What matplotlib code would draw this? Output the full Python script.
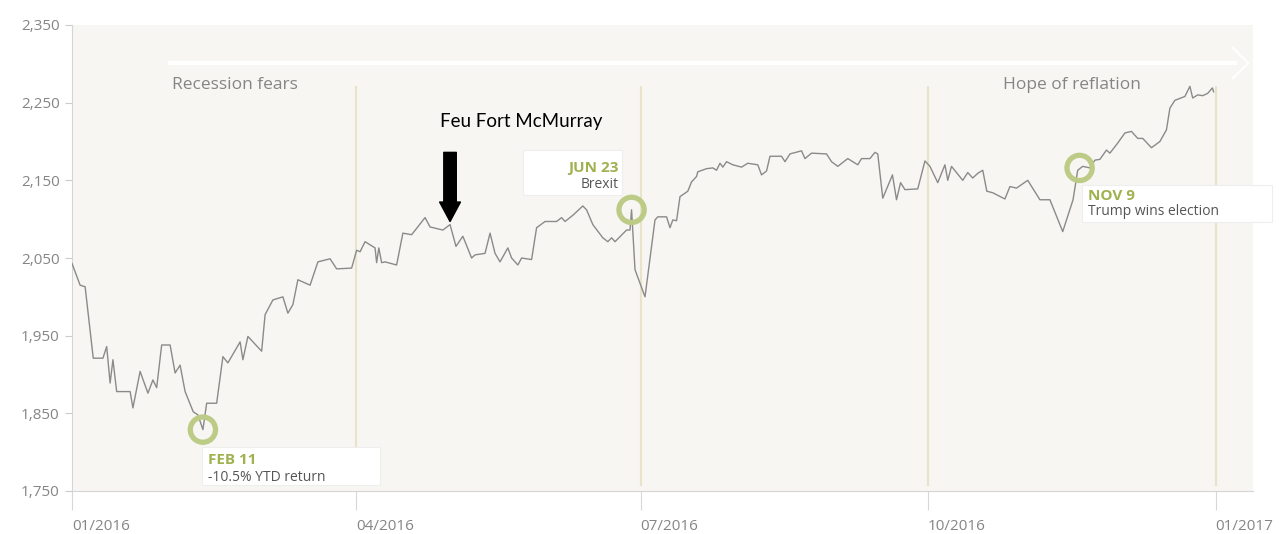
import pandas as pd
import matplotlib
matplotlib.use('Agg')
import matplotlib.pyplot as plt
import matplotlib.dates as mdates
from matplotlib.patches import Rectangle

# S&P 500, 2016 -- days counted from 01/01/2016
days = [0, 2.6, 4.2, 6.8, 9.9, 11.1, 12.2, 13.1, 14.3, 18.6, 19.5, 21.8, 24.3, 25.9, 27.1,
        28.7, 31.4, 33.0, 34.6, 36.2, 38.8, 40.3, 41.9, 43.1, 46.3, 48.3, 49.9, 53.8, 54.7,
        56.3, 60.7, 61.8, 64.3, 67.5, 69.1, 70.7, 72.3, 76.2, 78.7, 82.6, 84.7, 89.5, 91.1,
        92.2, 93.8, 97.0, 97.5, 98.2, 99.1, 100.2, 103.9, 105.9, 108.7, 113.0, 114.6, 118.7,
        121.0, 122.9, 125.1, 127.9, 129.0, 132.2, 133.8, 135.4, 137.0, 139.5, 140.7, 142.7,
        143.9, 147.1, 148.7, 151.4, 155.1, 156.7, 157.8, 160.3, 163.5, 164.7, 166.7, 169.9,
        171.5, 172.7, 173.8, 177.5, 178.6, 179.1, 180.2, 183.4, 186.6, 187.5, 190.3, 191.4,
        192.3, 193.5, 194.6, 197.1, 198.3, 199.9, 200.3, 203.1, 205.1, 206.3, 207.4, 208.3,
        209.5, 211.5, 214.3, 216.3, 219.5, 220.7, 222.3, 223.4, 227.1, 228.2, 229.8, 233.5,
        234.6, 236.7, 241.5, 243.1, 245.1, 248.3, 251.5, 252.7, 255.4, 257.0, 257.9, 259.5,
        262.6, 263.9, 265.2, 266.6, 270.7, 273.0, 274.6, 277.1, 279.4, 280.3, 281.5, 285.1,
        286.7, 288.3, 289.9, 291.5, 292.8, 294.7, 298.6, 300.2, 302.3, 305.9, 309.8, 313.0,
        317.1, 320.4, 321.9, 323.5, 325.8, 327.4, 329.0, 331.1, 332.2, 334.7, 337.0, 339.1,
        341.1, 342.7, 345.5, 348.2, 350.3, 351.4, 353.0, 356.2, 357.8, 358.7, 360.3, 361.9,
        363.5, 365.0, 365.4]
values = [2043, 2015, 2013, 1921, 1921, 1936, 1889, 1919, 1878, 1878, 1857, 1904, 1876, 1893, 1883,
          1938, 1938, 1902, 1912, 1878, 1852, 1848, 1829, 1863, 1863, 1923, 1915, 1942, 1919,
          1949, 1930, 1977, 1996, 2000, 1979, 1990, 2022, 2015, 2045, 2049, 2036, 2037, 2060,
          2058, 2071, 2063, 2044, 2063, 2044, 2045, 2041, 2082, 2080, 2102, 2090, 2086,
          2093, 2065, 2078, 2050, 2054, 2056, 2082, 2056, 2045, 2063, 2050, 2041,
          2050, 2048, 2089, 2097, 2097, 2102, 2097, 2105, 2117, 2112, 2093, 2076,
          2071, 2076, 2071, 2086, 2086, 2112, 2035, 2000, 2099, 2103, 2103, 2089,
          2099, 2098, 2129, 2136, 2148, 2155, 2161, 2165, 2166, 2163, 2172, 2167,
          2174, 2170, 2167, 2172, 2170, 2157, 2162, 2181, 2181, 2174, 2184, 2188,
          2178, 2185, 2184, 2174, 2168, 2178, 2170, 2178, 2178, 2186, 2184, 2127,
          2157, 2125, 2147, 2138, 2139, 2175, 2168, 2147, 2170, 2150, 2168, 2150,
          2160, 2153, 2159, 2163, 2136, 2134, 2126, 2142, 2140, 2150, 2125, 2125,
          2084, 2125, 2163, 2168, 2166, 2176, 2177, 2189, 2185, 2198, 2211, 2213,
          2204, 2204, 2192, 2200, 2215, 2243, 2253, 2258, 2271, 2256, 2260, 2259,
          2262, 2269, 2264]

event_days = [41.9, 179.1, 322.5]
event_values = [1829, 2112, 2166]
event_titles = ['FEB 11', 'JUN 23', 'NOV 9']
event_notes = ['-10.5% YTD return', 'Brexit', 'Trump wins election']

quarter_days = [91, 182, 274, 366]
yticks = [1750, 1850, 1950, 2050, 2150, 2250, 2350]

start = pd.Timestamp('2016-01-01')
dates = start + pd.to_timedelta(days, unit='D')
ev_dates = start + pd.to_timedelta(event_days, unit='D')
q_dates = start + pd.to_timedelta(quarter_days, unit='D')

font = 'Open Sans'
grey_txt = '#858585'
green = '#9fb24f'
ring = '#bccb86'

fig = plt.figure(figsize=(12.79, 5.34), dpi=100)
ax = fig.add_axes([72 / 1279, 1 - 491 / 534, 1181 / 1279, 466 / 534])
ax.set_facecolor('#f8f6f2')

ax.vlines(q_dates, 1757, 2272, color='#e8e4cc', lw=1.6, zorder=1)
ax.plot(dates, values, color='#8a8a8a', lw=1.0, zorder=3)
ax.scatter(ev_dates, event_values, s=330, facecolors='none', edgecolors=ring,
           linewidths=3.8, zorder=4)

ax.set_ylim(1750, 2350)
ax.set_xlim(start, start + pd.Timedelta(days=378))
ax.set_yticks(yticks)
ax.set_yticklabels(['{:,}'.format(v) for v in yticks])
ax.xaxis.set_major_locator(mdates.MonthLocator(bymonth=[1, 4, 7, 10]))
ax.xaxis.set_major_formatter(mdates.DateFormatter('%m/%Y'))
for lab in ax.get_xticklabels():
    lab.set_horizontalalignment('left')

ax.tick_params(axis='y', colors='#cccccc', labelcolor=grey_txt, labelsize=11, length=5, pad=4)
ax.tick_params(axis='x', colors='#d8d8d8', labelcolor=grey_txt, labelsize=11, length=14, pad=6)
for lab in ax.get_xticklabels() + ax.get_yticklabels():
    lab.set_family(font)
for s in ['top', 'right']:
    ax.spines[s].set_visible(False)
for s in ['left', 'bottom']:
    ax.spines[s].set_color('#d5d5d5')

# white arrow band across the top
ax.plot([0.083, 0.985], [0.918, 0.918], transform=ax.transAxes, color='white', lw=3, zorder=2)
ax.plot([0.983, 0.996, 0.983], [0.951, 0.918, 0.886], transform=ax.transAxes,
        color='white', lw=1.5, zorder=2)
ax.text(0.085, 0.872, 'Recession fears', transform=ax.transAxes, fontsize=12.5,
        color=grey_txt, family=font, va='center')
ax.text(0.788, 0.872, 'Hope of reflation', transform=ax.transAxes, fontsize=12.5,
        color=grey_txt, family=font, va='center')

# Fort McMurray arrow
fm_day = start + pd.Timedelta(days=121)
ax.annotate('', xy=(fm_day, 2097), xytext=(fm_day, 2186),
            arrowprops=dict(facecolor='black', edgecolor='black', width=9,
                            headwidth=15, headlength=14), zorder=5)
ax.text(0.38, 0.792, 'Feu Fort McMurray', transform=ax.transAxes, fontsize=13.5,
        color='black', family='Lato', ha='center', va='center')

# event boxes
boxes = [(0.110, 0.013, 0.151, 0.081), (0.382, 0.635, 0.084, 0.097), (0.855, 0.577, 0.161, 0.080)]
text_pos = [(0.115, 0.067, 0.030, 'left'), (0.463, 0.693, 0.657, 'right'),
            (0.860, 0.633, 0.599, 'left')]
for (bx, by, bw, bh), (tx, ty1, ty2, ha), title, note in zip(boxes, text_pos,
                                                           event_titles, event_notes):
    ax.add_patch(Rectangle((bx, by), bw, bh, transform=ax.transAxes, facecolor='white',
                           edgecolor='#eeeeee', lw=0.8, zorder=6, clip_on=False))
    ax.text(tx, ty1, title, transform=ax.transAxes, fontsize=11, fontweight='bold',
            color=green, family=font, ha=ha, va='center', zorder=7)
    ax.text(tx, ty2, note, transform=ax.transAxes, fontsize=10, color='#555555',
            family=font, ha=ha, va='center', zorder=7)

plt.savefig('out.png', dpi=100, facecolor='white')
